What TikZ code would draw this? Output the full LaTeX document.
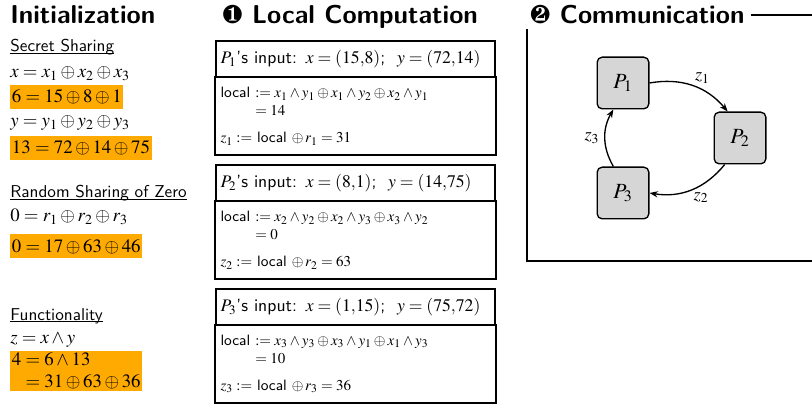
\documentclass[tikz,border=0pt]{standalone}
\usepackage{mathptmx}
\usepackage{pifont}
\usetikzlibrary{positioning,arrows.meta}
\renewcommand{\familydefault}{\sfdefault}

\newsavebox{\ulbox}
\newcommand{\underrule}[1]{\sbox{\ulbox}{#1}\rlap{\rule[-1.2pt]{\wd\ulbox}{0.5pt}}\usebox{\ulbox}}

\definecolor{shareorange}{RGB}{255,170,0}
\definecolor{partygray}{gray}{0.84}

\tikzstyle{title} = [
anchor=base west,
inner sep=0pt,
font=\fontsize{15.5}{18}\selectfont\bfseries
]
\tikzstyle{topic} = [
anchor=base west,
inner sep=0pt,
font=\fontsize{10.3}{12}\selectfont
]
\tikzstyle{share} = [
anchor=base west,
inner sep=0pt,
font=\fontsize{11.3}{13.2}\selectfont
]
\tikzstyle{highlight} = [
share,
fill=shareorange,
inner xsep=1pt,
text height=10.8pt,
text depth=3.6pt
]
\tikzstyle{inputbox} = [
rectangle,
draw=black,
thick,
outer sep=0pt,
minimum width=167.4pt,
minimum height=21.6pt,
text width=162pt,
inner xsep=2.6pt,
align=left,
font=\fontsize{10.6}{13}\selectfont
]
\tikzstyle{localbox} = [
rectangle,
draw=black,
thick,
outer sep=0pt,
minimum width=167.4pt,
minimum height=46.8pt,
text width=162pt,
align=left,
font=\fontsize{9}{10.8}\selectfont
]
\tikzstyle{party} = [
rectangle,
rounded corners=3pt,
draw=black,
thick,
fill=partygray,
minimum size=31pt,
font=\fontsize{13}{15}\selectfont
]
\tikzstyle{arrow} = [
thick,
->,
>={Stealth[length=5pt]}
]

\begin{document}
\begin{tikzpicture}[
x=0.6pt,
y=-0.6pt,
node distance=6pt
]
\useasboundingbox (0,0) rectangle (812,410);

% Initialization
\node (init) [title] at (10,24) {Initialization};
\node (secret) [topic] at (10,52) {\underrule{Secret Sharing}};
\node (xsplit) [share] at (10,78) {$x = x_1 \oplus x_2 \oplus x_3$};
\node (xvals) [highlight] at (10,103) {$6 = 15 \oplus 8 \oplus 1$};
\node (ysplit) [share] at (10,127) {$y = y_1 \oplus y_2 \oplus y_3$};
\node (yvals) [highlight] at (10,154) {$13 = 72 \oplus 14 \oplus 75$};

\node (zero) [topic] at (10,198) {\underrule{Random Sharing of Zero}};
\node (rsplit) [share] at (10,222) {$0 = r_1 \oplus r_2 \oplus r_3$};
\node (rvals) [highlight] at (10,252) {$0 = 17 \oplus 63 \oplus 46$};

\node (func) [topic] at (10,320) {\underrule{Functionality}};
\node (zfunc) [share] at (10,343) {$z = x \wedge y$};
\node (zvals) [share, fill=shareorange, anchor=north west, inner xsep=1pt,
inner ysep=1pt, align=left] at (10,351)
{$4 = 6 \wedge 13$\\ $\phantom{4} = 31 \oplus 63 \oplus 36$};

% Local computation
\node (local) [title] at (222,24) {\ding{182} Local Computation};

\node (in1) [inputbox, anchor=north west] at (216,41)
{$P_1$'s input: $x = (15{,}8)$;~ $y = (72{,}14)$};
\node (loc1) [localbox, below=0pt of in1]
{local $:= x_1 \wedge y_1 \oplus x_1 \wedge y_2 \oplus x_2 \wedge y_1$\\
\phantom{local} $= 14$\\[5.4pt]
$z_1 :=$ local $\oplus\, r_1 = 31$};

\node (in2) [inputbox, below=of loc1]
{$P_2$'s input: $x = (8{,}1)$;~ $y = (14{,}75)$};
\node (loc2) [localbox, below=0pt of in2]
{local $:= x_2 \wedge y_2 \oplus x_2 \wedge y_3 \oplus x_3 \wedge y_2$\\
\phantom{local} $= 0$\\[5.4pt]
$z_2 :=$ local $\oplus\, r_2 = 63$};

\node (in3) [inputbox, below=of loc2]
{$P_3$'s input: $x = (1{,}15)$;~ $y = (75{,}72)$};
\node (loc3) [localbox, below=0pt of in3]
{local $:= x_3 \wedge y_3 \oplus x_3 \wedge y_1 \oplus x_1 \wedge y_3$\\
\phantom{local} $= 10$\\[5.4pt]
$z_3 :=$ local $\oplus\, r_3 = 36$};

% Communication
\draw [thick] (812,15) -- (527,15) -- (527,261) -- (812,261);
\node (comm) [title, fill=white, inner xsep=4pt, inner ysep=3pt] at (523,24)
{\ding{183} Communication};

\node (P1) [party] at (623,83) {$P_1$};
\node (P2) [party] at (740,138) {$P_2$};
\node (P3) [party] at (623,193) {$P_3$};

% Arrows
\draw [arrow] (P1.east) to [bend left=30]
node [above right, inner sep=1pt, font=\fontsize{11}{13}\selectfont] {$z_1$} (P2.115);
\draw [arrow] (P2.240) to [bend left=30]
node [below right, inner sep=1pt, font=\fontsize{11}{13}\selectfont] {$z_2$} (P3.east);
\draw [arrow] (P3.110) to [bend left=30]
node [left, inner sep=3pt, font=\fontsize{11}{13}\selectfont] {$z_3$} (P1.250);

\end{tikzpicture}
\end{document}
